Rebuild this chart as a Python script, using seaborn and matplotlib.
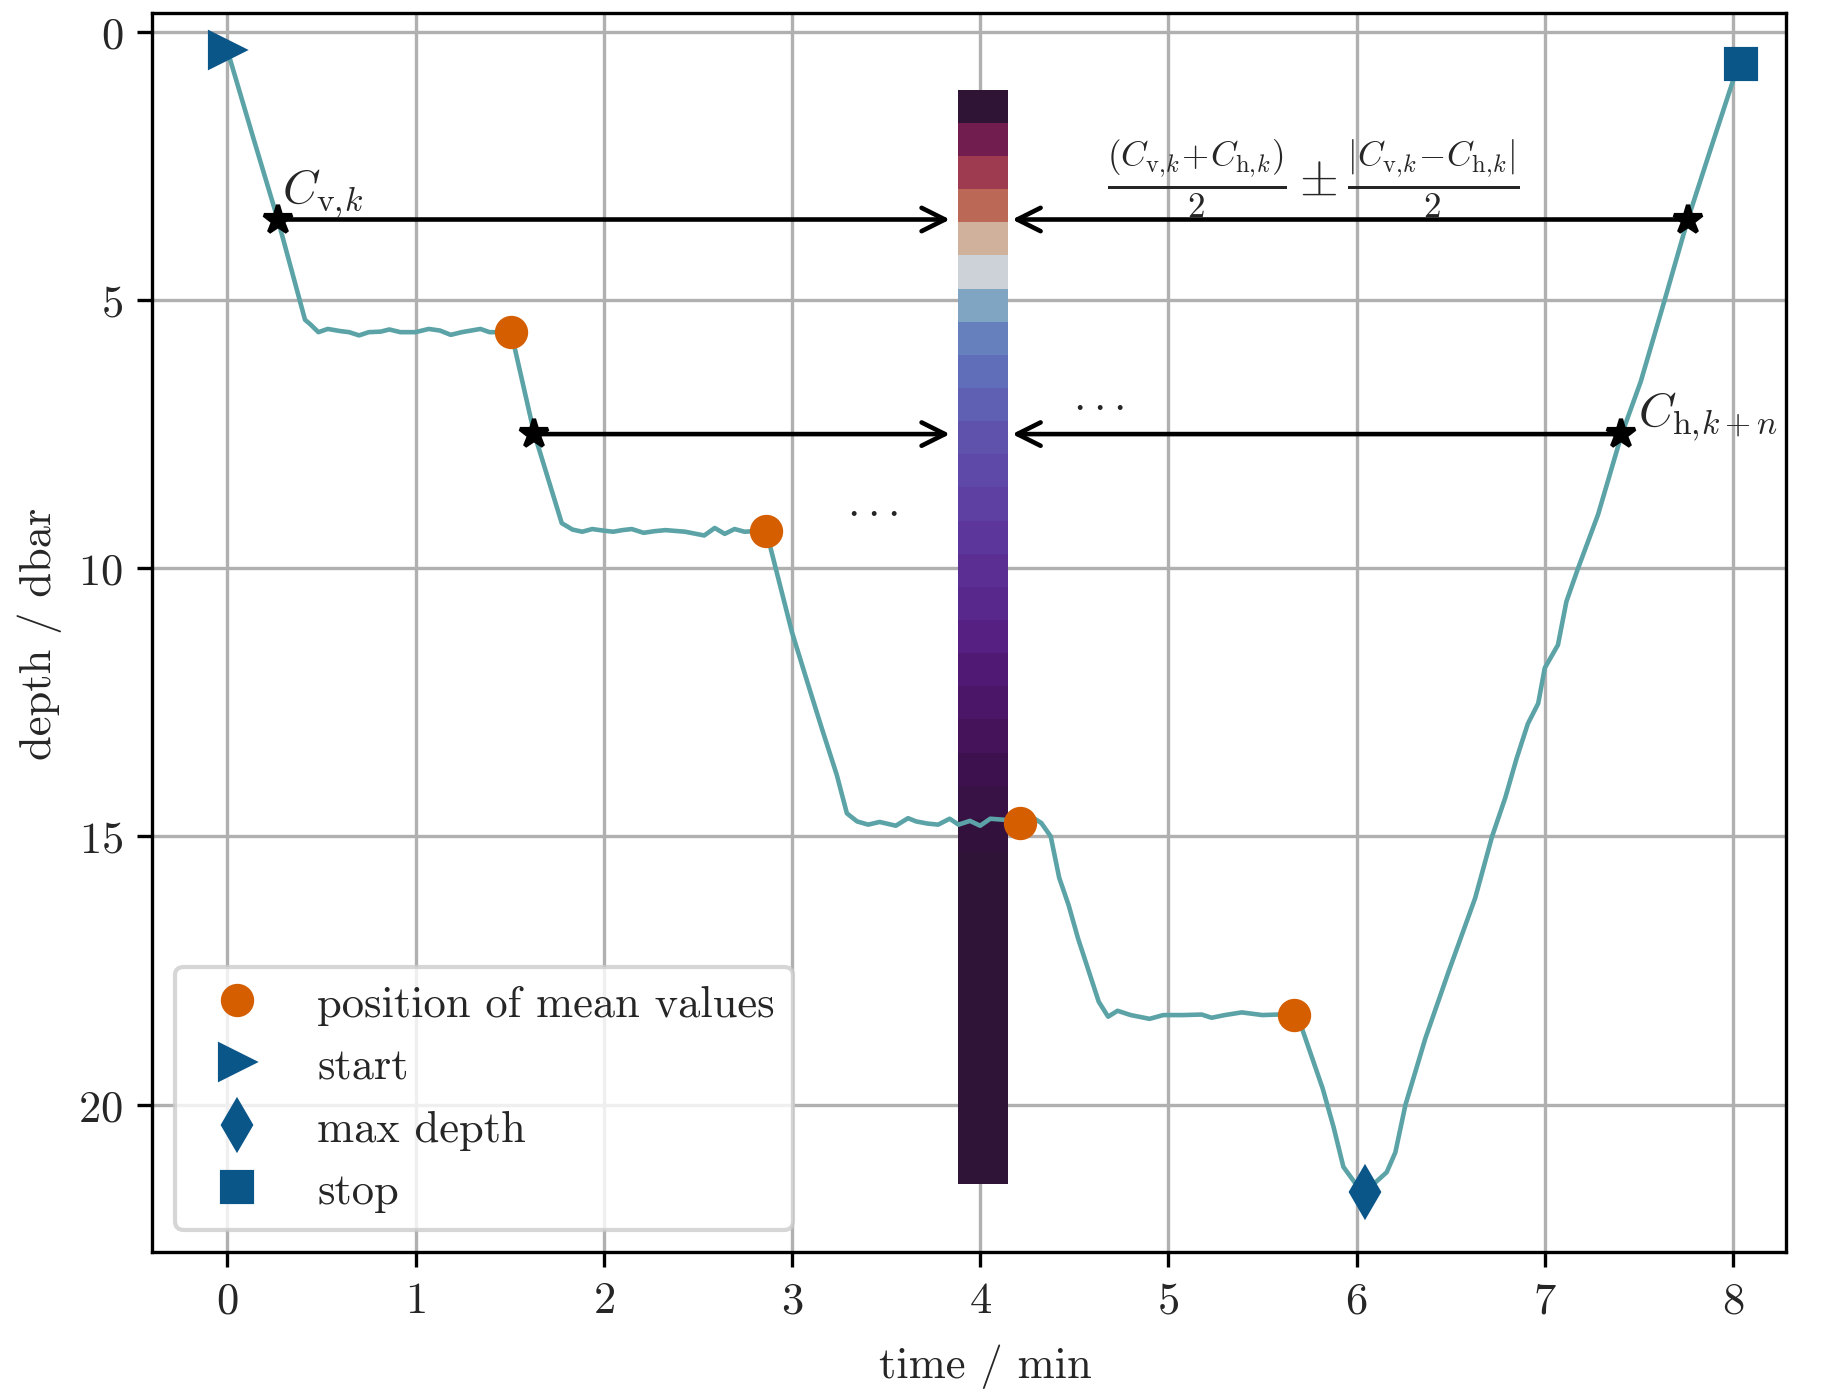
import numpy as np
import matplotlib
matplotlib.use("Agg")
import matplotlib.pyplot as plt
import seaborn as sns

# dive profile
time_min = [0.0, 0.14, 0.27, 0.413, 0.44, 0.484, 0.534, 0.60, 0.647, 0.70, 0.752, 0.815,
            0.861, 0.92, 1.0, 1.07, 1.13, 1.187, 1.246, 1.345, 1.393, 1.508,
            1.63, 1.777, 1.834, 1.886, 1.939, 2.0, 2.05, 2.10, 2.149, 2.212, 2.27,
            2.328, 2.433, 2.534, 2.59, 2.643, 2.695, 2.748, 2.80, 2.863,
            3.0, 3.087, 3.16, 3.238, 3.292, 3.346, 3.405, 3.466, 3.552, 3.617,
            3.66, 3.72, 3.777, 3.838, 3.885, 3.946, 4.0, 4.054, 4.13, 4.21,
            4.29, 4.325, 4.375, 4.42, 4.47, 4.52, 4.63, 4.68, 4.73, 4.80, 4.90,
            4.973, 5.08, 5.177, 5.23, 5.30, 5.39, 5.50, 5.58, 5.67,
            5.71, 5.82, 5.878, 5.93, 5.99, 6.046, 6.10, 6.16, 6.206, 6.26, 6.365,
            6.489, 6.63, 6.72, 6.79, 6.85, 6.91, 6.965, 7.0, 7.07, 7.115, 7.177,
            7.283, 7.407, 7.51, 7.637, 7.76, 7.88, 8.005, 8.04]
depth_dbar = [0.34, 2.0, 3.52, 5.37, 5.45, 5.60, 5.54, 5.58, 5.60, 5.66, 5.60, 5.59,
              5.55, 5.60, 5.60, 5.54, 5.57, 5.65, 5.60, 5.54, 5.60, 5.60,
              7.48, 9.16, 9.28, 9.32, 9.27, 9.30, 9.32, 9.29, 9.27, 9.34, 9.31,
              9.29, 9.32, 9.39, 9.25, 9.36, 9.27, 9.32, 9.31, 9.30,
              11.19, 12.18, 13.0, 13.85, 14.57, 14.72, 14.78, 14.73, 14.80, 14.66,
              14.72, 14.76, 14.78, 14.67, 14.78, 14.71, 14.80, 14.67, 14.69, 14.75,
              14.67, 14.75, 15.0, 15.77, 16.28, 16.9, 18.08, 18.36, 18.25, 18.33, 18.40,
              18.33, 18.33, 18.32, 18.38, 18.33, 18.28, 18.33, 18.32, 18.33,
              18.58, 19.70, 20.42, 21.16, 21.45, 21.63, 21.45, 21.26, 20.89, 20.0, 18.77,
              17.52, 16.15, 15.0, 14.28, 13.55, 12.9, 12.52, 11.86, 11.43, 10.62, 10.0,
              9.0, 7.52, 6.52, 5.0, 3.50, 2.2, 0.86, 0.6]

mean_t = [1.508, 2.863, 4.21, 5.67]
mean_d = [5.60, 9.30, 14.75, 18.33]
start_td = (0.0, 0.34)
maxdepth_td = (6.046, 21.63)
stop_td = (8.04, 0.6)

# crossing points (down cast / up cast)
star_down_t = [0.267, 1.63]
star_up_t = [7.76, 7.407]
star_d = [3.5, 7.5]

# binned column (twilight_shifted values, top to bottom)
strip_vals = [1.00, 0.88, 0.80, 0.72, 0.60, 0.45, 0.34, 0.27, 0.235, 0.21, 0.19,
              0.175, 0.16, 0.145, 0.13, 0.12, 0.105, 0.09, 0.075, 0.06, 0.045, 0.03,
              0.015, 0.0, 0.0, 0.0, 0.0, 0.0, 0.0, 0.0, 0.0, 0.0, 0.0]

sns.set_style("ticks", {"axes.grid": True, "grid.color": "#b0b0b0",
                        "axes.edgecolor": "black"})
plt.rcParams["font.family"] = "serif"
plt.rcParams["font.serif"] = ["cmr10"]
plt.rcParams["mathtext.fontset"] = "cm"
plt.rcParams["axes.formatter.use_mathtext"] = True
plt.rcParams["font.size"] = 10.7
plt.rcParams["axes.unicode_minus"] = False

blue = "#0b5689"
orange = "#d55e00"

fig = plt.figure(figsize=(6.12, 4.6533), dpi=300)
ax = fig.add_axes([0.083, 0.1023, 0.8896, 0.8877])

# column of binned values
y_edges = np.linspace(1.08, 21.47, len(strip_vals) + 1)
ax.pcolormesh([3.88, 4.15], y_edges, np.array(strip_vals).reshape(-1, 1),
              cmap="twilight_shifted", vmin=0, vmax=1, zorder=1)

sns.lineplot(x=time_min, y=depth_dbar, ax=ax, color="#5ba3a6", lw=1.1,
             sort=False, estimator=None, legend=False, zorder=2)

# arrows from crossing points to the column
arrow_kw = dict(arrowstyle="->", color="black", lw=1.1, shrinkA=0, shrinkB=0,
                mutation_scale=14)
for td, tu, d in zip(star_down_t, star_up_t, star_d):
    ax.annotate("", xy=(3.84, d), xytext=(td, d), arrowprops=arrow_kw, zorder=3)
    ax.annotate("", xy=(4.17, d), xytext=(tu, d), arrowprops=arrow_kw, zorder=3)
ax.plot(star_down_t + star_up_t, star_d + star_d, "*", color="black", ms=7, zorder=4)

ax.plot(mean_t, mean_d, "o", color=orange, ms=7, ls="none",
        label="position of mean values", zorder=5)
ax.plot(*start_td, ">", color=blue, ms=8, ls="none", label="start", zorder=5)
ax.plot(*maxdepth_td, "d", color=blue, ms=8, ls="none", label="max depth", zorder=5)
ax.plot(*stop_td, "s", color=blue, ms=7, ls="none", label="stop", zorder=5)

ax.text(0.29, 3.18, r"$C_{\mathrm{v},\!k}$", ha="left", va="baseline", fontsize=11.5)
ax.text(7.495, 7.33, r"$C_{\mathrm{h},\!k+n}$", ha="left", va="baseline", fontsize=11.5)
ax.text(5.77, 2.72,
        r"$\frac{(C_{\mathrm{v},\!k}\!+\!C_{\mathrm{h},\!k})}{2} \pm "
        r"\frac{|C_{\mathrm{v},\!k}\!-\!C_{\mathrm{h},\!k}|}{2}$",
        ha="center", va="center", fontsize=12)
ax.text(3.43, 8.8, r"$...$", ha="center", va="center")
ax.text(4.63, 6.82, r"$...$", ha="center", va="center")

ax.set_xlim(-0.398, 8.28)
ax.set_ylim(22.75, -0.35)
ax.set_xticks(range(0, 9))
ax.set_yticks([0, 5, 10, 15, 20])
ax.set_xlabel("time / min")
ax.set_ylabel("depth / dbar")
ax.xaxis.set_label_coords(0.51, -0.074)
ax.tick_params(direction="out", length=3.5, width=0.8, color="black")
for s in ax.spines.values():
    s.set_linewidth(0.8)
ax.legend(loc="lower left")

fig.savefig("out.png", dpi=300)
